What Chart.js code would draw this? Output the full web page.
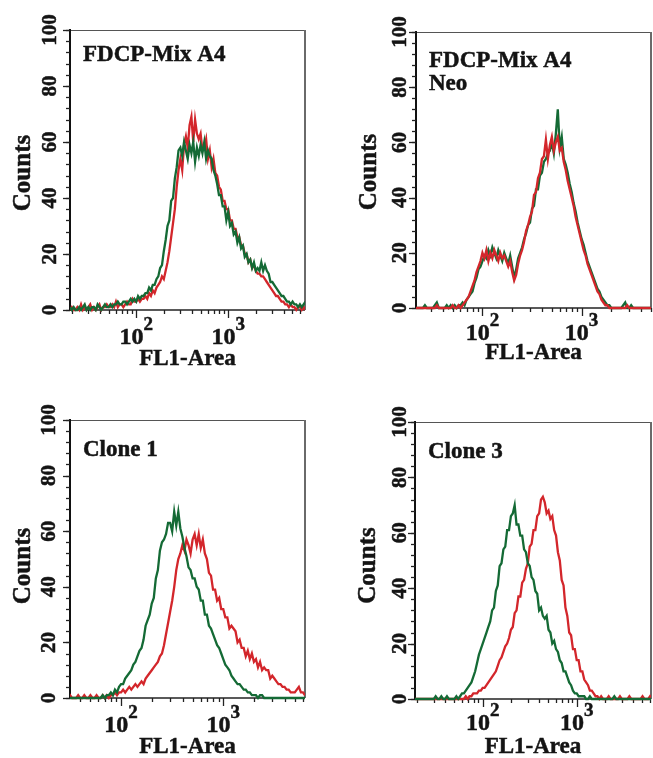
<!DOCTYPE html>
<html><head><meta charset="utf-8">
<script src="https://cdn.jsdelivr.net/npm/chart.js@4.4.1/dist/chart.umd.min.js"></script>
<style>
html,body{margin:0;padding:0;background:#fff;}
#wrap{position:relative;width:653px;height:758px;overflow:hidden;background:#fff;}
canvas{position:absolute;}
</style></head><body>
<div id="wrap">
<canvas id="c1" width="326" height="380" style="left:0px;top:0px;width:326px;height:380px"></canvas>
<canvas id="c2" width="327" height="380" style="left:326px;top:0px;width:327px;height:380px"></canvas>
<canvas id="c3" width="326" height="378" style="left:0px;top:380px;width:326px;height:378px"></canvas>
<canvas id="c4" width="327" height="378" style="left:326px;top:380px;width:327px;height:378px"></canvas>
</div>
<script>
// log10(FL1-Area) channel positions
const channels = [
1.28,1.30,1.32,1.34,1.36,1.38,1.40,1.42,1.44,1.46,
1.48,1.50,1.52,1.54,1.56,1.58,1.60,1.62,1.64,1.66,
1.68,1.70,1.72,1.74,1.76,1.78,1.80,1.82,1.84,1.86,
1.88,1.90,1.92,1.94,1.96,1.98,2.00,2.02,2.04,2.06,
2.08,2.10,2.12,2.14,2.16,2.18,2.20,2.22,2.24,2.26,
2.28,2.30,2.32,2.34,2.36,2.38,2.40,2.42,2.44,2.46,
2.48,2.50,2.52,2.54,2.56,2.58,2.60,2.62,2.64,2.66,
2.68,2.70,2.72,2.74,2.76,2.78,2.80,2.82,2.84,2.86,
2.88,2.90,2.92,2.94,2.96,2.98,3.00,3.02,3.04,3.06,
3.08,3.10,3.12,3.14,3.16,3.18,3.20,3.22,3.24,3.26,
3.28,3.30,3.32,3.34,3.36,3.38,3.40,3.42,3.44,3.46,
3.48,3.50,3.52,3.54,3.56,3.58,3.60,3.62,3.64,3.66,
3.68,3.70,3.72,3.74,3.76,3.78,3.80,3.82,3.84];

// Panel 1: FDCP-Mix A4
const a4Green = [
1,0,1,0,0,1,0,1,2,0, 1,0,1,1,0,2,1,0,1,2, 1,1,2,1,2,2,3,2,2,3,
3,2,3,4,3,4,3,5,4,5, 5,6,6,8,7,9,9,11,12,15, 16,21,25,30,32,39,40,47,51,57,
58,55,60,57,54,59,56,60,53,58, 55,59,56,60,54,57,55,54,50,48, 45,41,41,37,37,32,35,30,31,27,
28,24,26,22,23,19,20,17,18,15, 17,14,15,14,17,14,16,14,13,10, 10,9,8,7,6,5,5,4,3,3,
2,3,2,2,1,2,1,2,3];
const a4Red = [
0,1,0,0,1,0,2,0,1,0, 1,2,0,1,0,1,2,0,1,1, 2,1,1,2,1,3,1,2,2,1,
2,3,2,2,4,3,3,4,3,4, 4,5,4,6,5,7,6,8,9,10, 12,11,14,17,21,26,31,36,44,50,
54,50,59,62,58,66,69,60,68,63, 61,63,57,58,61,54,57,51,54,49, 48,44,43,39,39,36,36,32,32,29,
29,26,26,23,23,20,20,17,18,15, 16,14,13,13,12,12,11,10,9,8, 7,6,5,5,4,3,3,2,2,1,
2,1,1,0,1,1,0,1,0];

// Panel 2: FDCP-Mix A4 Neo
const neoGreen = [
0,0,0,0,0,0,0,1,0,0, 0,0,1,2,0,0,0,0,1,0, 1,0,1,0,1,1,2,1,3,4,
5,6,9,11,14,15,17,19,18,21, 19,22,20,18,21,19,17,20,18,16, 19,15,11,14,18,20,22,25,27,30,
31,36,37,43,43,48,49,53,54,56, 57,60,56,63,72,58,62,54,52,49, 45,42,38,35,31,28,25,23,20,17,
15,13,11,9,7,6,4,3,2,1, 1,0,0,0,0,0,0,1,2,0, 0,1,0,0,0,0,0,0,0,0,
0,0,0,0,0,0,0,0,0];
const neoRed = [
0,0,0,0,0,0,0,0,0,0, 0,0,0,1,0,0,0,0,0,0, 0,1,0,0,1,0,1,2,3,4,
6,8,10,13,15,17,20,18,21,17, 20,18,21,19,17,20,18,19,17,15, 17,13,10,12,16,19,21,24,28,30,
33,35,41,42,47,49,54,55,61,54, 59,62,57,60,62,57,58,53,50,46, 43,40,37,33,30,27,24,21,19,16,
14,12,10,8,6,5,3,2,1,1, 0,0,0,0,0,0,0,0,0,1, 0,0,0,0,0,0,0,0,0,0,
0,0,0,0,0,0,0,0,0];

// Panel 3: Clone 1
const clone1Green = [
0,0,0,0,0,0,0,0,0,0, 0,0,0,0,0,0,0,0,0,0, 0,0,0,0,0,0,0,1,0,1,
1,2,1,3,2,4,5,5,7,8, 9,10,12,13,15,17,18,21,26,28, 30,34,36,43,46,53,56,57,59,63,
63,60,67,62,67,61,58,54,51,47, 46,43,43,40,39,35,35,30,30,26, 25,23,21,19,18,16,14,12,11,10,
8,7,6,5,5,4,3,3,2,2, 1,1,1,0,1,1,0,0,0,0, 0,0,0,0,0,0,0,0,0,0,
0,0,0,0,0,0,0,0,0];
const clone1Red = [
0,0,0,0,0,0,0,0,0,0, 0,1,0,0,0,1,0,0,1,0, 0,1,0,0,1,0,0,1,0,1,
0,1,1,2,1,2,2,3,2,3, 4,3,4,5,4,5,6,5,7,8, 9,10,11,12,13,15,16,19,23,27,
31,35,40,46,50,52,55,53,57,55, 52,57,59,55,59,54,57,52,50,45, 44,39,39,35,36,32,32,29,29,25,
26,25,24,20,21,18,18,15,17,14, 16,13,14,11,13,10,11,10,10,7, 8,7,6,5,5,4,4,3,3,2,
2,2,3,4,2,2,1,1,1];

// Panel 4: Clone 3
const clone3Green = [
0,0,0,0,0,0,0,0,0,0, 0,1,0,0,1,0,0,1,0,0, 0,0,1,0,1,2,2,3,4,5,
6,8,10,13,16,18,20,22,24,26, 28,32,33,39,41,48,49,54,55,61, 61,66,67,70,63,63,59,59,54,53,
49,48,44,43,39,38,32,33,30,29, 30,25,24,20,21,18,17,14,13,10, 10,8,6,5,3,2,2,1,1,1,
1,0,0,1,0,0,0,0,0,0, 0,0,0,0,0,0,1,0,0,0, 0,0,0,0,0,0,0,0,0,0,
0,0,0,0,0,0,0,0,0];
const clone3Red = [
0,0,0,0,0,0,0,0,0,0, 0,0,0,0,0,0,0,0,0,0, 0,0,0,0,0,0,0,1,0,1,
1,2,2,2,3,3,4,4,5,6, 7,8,9,10,12,14,15,17,19,20, 22,25,26,31,32,37,37,42,43,47,
49,55,56,61,61,66,67,72,73,71, 67,68,65,66,61,59,53,50,43,41, 33,30,24,23,18,18,14,14,10,10,
7,6,5,3,3,2,1,1,0,1, 0,0,0,1,0,0,0,0,0,1, 0,0,0,0,1,0,0,0,0,0,
0,1,0,0,0,1,0,0,0];

const panelTitles = [["FDCP-Mix A4"], ["FDCP-Mix A4", "Neo"], ["Clone 1"], ["Clone 3"]];
const yTickValues = [0, 20, 40, 60, 80, 100];
const xTickDecades = [2, 3];
const xAxisTitle = "FL1-Area";
const yAxisTitle = "Counts";

const RED = '#d3262b';
const GREEN = '#146a35';
const TEXT = '#141414';
const SERIF = '"Liberation Serif", "DejaVu Serif", serif';

// layout (positions / styles only)
const panels = [
  { id: 'c1', title: panelTitles[0], green: a4Green, red: a4Red, greenOnTop: true,
    pad: {left: 70, top: 30, right: 21, bottom: 70}, xmin: 1.28, xmax: 3.835,
    tickLblDx: -20, titleDy: 31, xLblDy: 34, xTitleDy: 55, yTitleDy: 3 },
  { id: 'c2', title: panelTitles[1], green: neoGreen, red: neoRed, greenOnTop: false,
    pad: {left: 90, top: 32, right: 2, bottom: 72}, xmin: 1.33, xmax: 3.70,
    tickLblDx: -16, titleDy: 35, xLblDy: 32, xTitleDy: 51, yTitleDy: 2 },
  { id: 'c3', title: panelTitles[2], green: clone1Green, red: clone1Red, greenOnTop: true,
    pad: {left: 70, top: 40, right: 21, bottom: 60}, xmin: 1.50, xmax: 3.80,
    tickLblDx: -21, titleDy: 36, xLblDy: 34, xTitleDy: 55, yTitleDy: 7 },
  { id: 'c4', title: panelTitles[3], green: clone3Green, red: clone3Red, greenOnTop: true,
    pad: {left: 89, top: 42, right: 2, bottom: 59}, xmin: 1.28, xmax: 3.79,
    tickLblDx: -15, titleDy: 36, xLblDy: 31, xTitleDy: 54, yTitleDy: 5 }
];

function boldText(ctx, text, x, y) {
  ctx.fillText(text, x, y);
  ctx.strokeText(text, x, y);
}

const decorPlugin = {
  id: 'facsDecor',
  beforeDatasetsDraw(chart) {
    const ctx = chart.ctx, a = chart.chartArea, xs = chart.scales.x, ys = chart.scales.y;
    ctx.save();
    ctx.strokeStyle = '#555'; ctx.lineWidth = 1;
    ctx.beginPath(); ctx.moveTo(a.left, a.top + 0.5); ctx.lineTo(a.right, a.top + 0.5); ctx.stroke();
    ctx.strokeStyle = '#6a6a6a'; ctx.lineWidth = 2;
    ctx.beginPath(); ctx.moveTo(a.right, a.top); ctx.lineTo(a.right, a.bottom); ctx.stroke();
    ctx.strokeStyle = '#222'; ctx.lineWidth = 1.5;
    ctx.beginPath(); ctx.moveTo(a.left, a.bottom); ctx.lineTo(a.right, a.bottom); ctx.stroke();
    ctx.strokeStyle = '#111'; ctx.lineWidth = 2;
    ctx.beginPath(); ctx.moveTo(a.left, a.top - 1); ctx.lineTo(a.left, a.bottom + 1); ctx.stroke();
    ctx.lineWidth = 1.3; ctx.strokeStyle = '#222';
    for (let v = 0; v <= 100; v += 4) {
      const y = Math.round(ys.getPixelForValue(v)) + 0.5;
      ctx.beginPath(); ctx.moveTo(a.left, y); ctx.lineTo(a.left - 4, y); ctx.stroke();
    }
    for (const v of yTickValues) {
      const y = Math.round(ys.getPixelForValue(v)) + 0.5;
      ctx.beginPath(); ctx.moveTo(a.left, y); ctx.lineTo(a.left - 7, y); ctx.stroke();
    }
    for (let d = 1; d <= 3; d++) {
      for (let k = 1; k <= 9; k++) {
        const lv = d + Math.log10(k);
        if (lv < xs.min || lv > xs.max) continue;
        const x = Math.round(xs.getPixelForValue(lv)) + 0.5;
        const len = (k === 1) ? 8 : 4;
        ctx.beginPath(); ctx.moveTo(x, a.bottom); ctx.lineTo(x, a.bottom + len); ctx.stroke();
      }
    }
    ctx.restore();
  },
  afterDraw(chart) {
    const ctx = chart.ctx, a = chart.chartArea, xs = chart.scales.x, ys = chart.scales.y;
    const p = chart.options.plugins.facsDecor;
    ctx.save();
    ctx.fillStyle = TEXT; ctx.strokeStyle = TEXT; ctx.lineWidth = 0.5;
    ctx.font = 'bold 21px ' + SERIF;
    ctx.textAlign = 'center'; ctx.textBaseline = 'middle';
    for (const v of yTickValues) {
      const y = ys.getPixelForValue(v);
      ctx.save(); ctx.translate(a.left + p.tickLblDx, y); ctx.rotate(-Math.PI / 2);
      boldText(ctx, String(v), 0, 1); ctx.restore();
    }
    ctx.font = 'bold 25px ' + SERIF;
    ctx.save(); ctx.translate(a.left - 47, (a.top + a.bottom) / 2 + p.yTitleDy); ctx.rotate(-Math.PI / 2);
    boldText(ctx, yAxisTitle, 0, 1); ctx.restore();
    ctx.textBaseline = 'alphabetic'; ctx.textAlign = 'left';
    for (const d of xTickDecades) {
      const x = xs.getPixelForValue(d);
      ctx.font = 'bold 24px ' + SERIF; const wb = ctx.measureText('10').width;
      ctx.font = 'bold 19px ' + SERIF; const we = ctx.measureText(String(d)).width;
      const x0 = x - (wb + we) / 2;
      ctx.font = 'bold 24px ' + SERIF; boldText(ctx, '10', x0, a.bottom + p.xLblDy);
      ctx.font = 'bold 19px ' + SERIF; boldText(ctx, String(d), x0 + wb, a.bottom + p.xLblDy - 14);
    }
    ctx.font = 'bold 23px ' + SERIF; ctx.textAlign = 'center';
    boldText(ctx, xAxisTitle, (a.left + a.right) / 2, a.bottom + p.xTitleDy);
    ctx.font = 'bold 23px ' + SERIF; ctx.textAlign = 'left';
    p.title.forEach((line, i) => boldText(ctx, line, a.left + 13, a.top + p.titleDy + i * 23));
    ctx.restore();
  }
};

for (const pc of panels) {
  const gSet = { label: 'green', data: channels.map((c, i) => ({x: c, y: pc.green[i]})),
    borderColor: GREEN, borderWidth: 2.3, pointRadius: 0, tension: 0, fill: false,
    clip: {left: 0, right: 0, top: 4, bottom: 4} };
  const rSet = { label: 'red', data: channels.map((c, i) => ({x: c, y: pc.red[i]})),
    borderColor: RED, borderWidth: 2.3, pointRadius: 0, tension: 0, fill: false,
    clip: {left: 0, right: 0, top: 4, bottom: 4} };
  new Chart(document.getElementById(pc.id), {
    type: 'line',
    data: { datasets: pc.greenOnTop ? [gSet, rSet] : [rSet, gSet] },
    options: {
      responsive: false, animation: false, devicePixelRatio: 1,
      layout: { padding: pc.pad },
      plugins: { legend: {display: false}, tooltip: {enabled: false}, title: {display: false},
        facsDecor: { title: pc.title, tickLblDx: pc.tickLblDx, titleDy: pc.titleDy,
          xLblDy: pc.xLblDy, xTitleDy: pc.xTitleDy, yTitleDy: pc.yTitleDy } },
      scales: {
        x: { type: 'linear', min: pc.xmin, max: pc.xmax, display: false },
        y: { type: 'linear', min: 0, max: 100, display: false }
      }
    },
    plugins: [decorPlugin]
  });
}
</script>
</body></html>
